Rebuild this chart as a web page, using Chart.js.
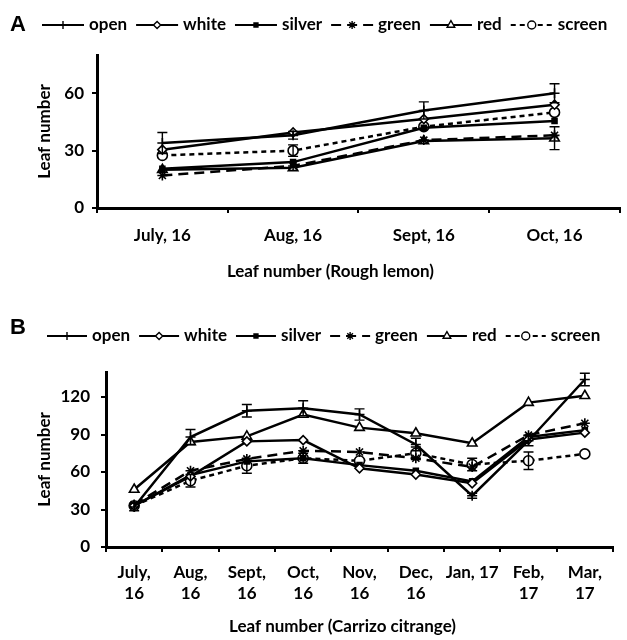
<!DOCTYPE html>
<html>
<head>
<meta charset="utf-8">
<script src="https://cdn.jsdelivr.net/npm/chart.js@4.4.0/dist/chart.umd.min.js"></script>
<style>
  body { margin: 0; background: #fff; }
  #wrapA { position: absolute; left: 0; top: 0; width: 627px; height: 305px; }
  #wrapB { position: absolute; left: 0; top: 310px; width: 627px; height: 330px; }
</style>
</head>
<body>
<div id="wrapA"><canvas id="chartA"></canvas></div>
<div id="wrapB"><canvas id="chartB"></canvas></div>
<script>
// series names (legend order)
const seriesNames = ['open', 'white', 'silver', 'green', 'red', 'screen'];

// A: Rough lemon
const monthsA = ['July, 16', 'Aug, 16', 'Sept, 16', 'Oct, 16'];
const openA   = [34, 38, 51, 60];
const whiteA  = [30.5, 39.5, 46.5, 54];
const silverA = [20.5, 24, 42, 45.5];
const greenA  = [17, 22, 35.5, 38];
const redA    = [20, 21, 35, 36.5];
const screenA = [27.5, 30, 42.5, 50];
const openErrA   = [5.5, 2, 4.5, 5];
const redErrA    = [0, 0, 0, 6];
const screenErrA = [0, 3, 0, 0];
const yTicksA = [0, 30, 60];

// B: Carrizo citrange
const monthsB = [['July,', '16'], ['Aug,', '16'], ['Sept,', '16'], ['Oct,', '16'], ['Nov,', '16'],
                 ['Dec,', '16'], 'Jan, 17', ['Feb,', '17'], ['Mar,', '17']];
const openB   = [32, 88, 109, 111, 106, 82, 41, 85, 134];
const whiteB  = [33, 56.5, 84.5, 85.5, 63, 58, 51, 86, 91.5];
const silverB = [33, 57.5, 68.5, 71, 65.5, 61, 52.5, 88, 93.5];
const greenB  = [34, 61, 70.5, 77, 76, 71, 64, 89.5, 99];
const redB    = [46, 84, 88.5, 106, 95.5, 91, 83, 115.5, 121];
const screenB = [33, 53, 65, 71, 69, 75, 66, 69, 74.5];
const openErrB   = [3, 6, 5, 6, 4.5, 5, 2, 4, 5];
const screenErrB = [0, 5, 6, 4, 0, 5, 5, 7, 0];
const yTicksB = [0, 30, 60, 90, 120];

const FONT = 'Lato, "Open Sans", sans-serif';
const FSIZE = 17;

const looks = {
  open:   { pointStyle: 'cross', pointRadius: 5, dash: [], fill: '#000' },
  white:  { pointStyle: 'rectRot', pointRadius: 4.5, dash: [], fill: '#fff' },
  silver: { pointStyle: 'rect', pointRadius: 3.5, dash: [], fill: '#000' },
  green:  { pointStyle: 'star', pointRadius: 5, dash: [10, 6], fill: '#000' },
  red:    { pointStyle: 'triangle', pointRadius: 5.5, dash: [], fill: '#fff' },
  screen: { pointStyle: 'circle', pointRadius: 5, dash: [5, 4], fill: '#fff' }
};

function makeSets(values, errors) {
  return seriesNames.map((name, i) => ({
    label: name,
    data: values[i],
    errors: errors[i],
    borderColor: '#000',
    borderWidth: 2.5,
    borderDash: looks[name].dash,
    pointStyle: looks[name].pointStyle,
    pointRadius: looks[name].pointRadius,
    pointBackgroundColor: looks[name].fill,
    pointBorderColor: '#000',
    pointBorderWidth: 1.6,
    tension: 0,
    fill: false
  }));
}

const errorBars = {
  id: 'errorBars',
  afterDatasetsDraw(chart) {
    const ctx = chart.ctx;
    const y = chart.scales.y;
    chart.data.datasets.forEach((ds, i) => {
      if (!ds.errors) return;
      const meta = chart.getDatasetMeta(i);
      meta.data.forEach((pt, j) => {
        const e = ds.errors[j];
        if (!e) return;
        const top = y.getPixelForValue(ds.data[j] + e);
        const bot = y.getPixelForValue(ds.data[j] - e);
        ctx.save();
        ctx.strokeStyle = '#000';
        ctx.lineWidth = 1.4;
        ctx.beginPath();
        ctx.moveTo(pt.x, top); ctx.lineTo(pt.x, bot);
        ctx.moveTo(pt.x - 5, top); ctx.lineTo(pt.x + 5, top);
        ctx.moveTo(pt.x - 5, bot); ctx.lineTo(pt.x + 5, bot);
        ctx.stroke();
        ctx.restore();
      });
    });
  }
};

const lineLegend = {
  id: 'lineLegend',
  afterDraw(chart, args, opts) {
    const ctx = chart.ctx;
    ctx.save();
    // panel letter
    ctx.fillStyle = '#000';
    ctx.font = 'bold 22px "Liberation Sans", Arial, sans-serif';
    ctx.textBaseline = 'middle';
    ctx.textAlign = 'left';
    ctx.fillText(opts.letter, 10, opts.letterY);
    // legend items
    ctx.font = 'bold ' + FSIZE + 'px ' + FONT;
    let x = opts.x;
    const yy = opts.y;
    chart.data.datasets.forEach(ds => {
      ctx.save();
      ctx.strokeStyle = '#000';
      ctx.lineWidth = 2.2;
      ctx.setLineDash(ds.borderDash || []);
      ctx.beginPath();
      ctx.moveTo(x, yy); ctx.lineTo(x + opts.lineLen, yy);
      ctx.stroke();
      ctx.setLineDash([]);
      ctx.fillStyle = ds.pointBackgroundColor;
      ctx.lineWidth = 1.4;
      Chart.helpers.drawPoint(ctx, {
        pointStyle: ds.pointStyle, radius: ds.pointRadius * 0.8, rotation: 0, borderWidth: 1.4
      }, x + opts.lineLen / 2, yy);
      ctx.restore();
      x += opts.lineLen + 5;
      ctx.fillStyle = '#000';
      ctx.fillText(ds.label, x, yy);
      x += ctx.measureText(ds.label).width + 9;
    });
    // x axis title
    const ca = chart.chartArea;
    ctx.textAlign = 'center';
    ctx.fillText(opts.xTitle, (ca.left + ca.right) / 2 + opts.xTitleDx, opts.xTitleY);
    ctx.restore();
  }
};

function makeChart(id, labels, sets, cfg) {
  const tickFont = { family: FONT, size: FSIZE, weight: 'bold', lineHeight: 1.25 };
  return new Chart(document.getElementById(id), {
    type: 'line',
    data: { labels: labels, datasets: sets },
    plugins: [errorBars, lineLegend],
    options: {
      responsive: true,
      maintainAspectRatio: false,
      animation: false,
      layout: { padding: { top: cfg.top, right: cfg.right, left: 0, bottom: 0 } },
      plugins: {
        legend: { display: false },
        tooltip: { enabled: false },
        lineLegend: cfg.legend
      },
      scales: {
        x: {
          offset: true,
          grid: { display: true, drawOnChartArea: false, drawTicks: true, tickLength: 5,
                  color: '#000', lineWidth: 2, offset: true },
          border: { display: true, color: '#000', width: 3 },
          ticks: { color: '#000', font: tickFont, padding: cfg.xPad, maxRotation: 0, autoSkip: false },
          afterFit: s => { s.height = cfg.xH; }
        },
        y: {
          min: 0,
          max: cfg.yMax,
          afterBuildTicks: s => { s.ticks = cfg.yTicks.map(v => ({ value: v })); },
          grid: { display: true, drawOnChartArea: false, drawTicks: true, tickLength: 5,
                  color: '#000', lineWidth: 2 },
          border: { display: true, color: '#000', width: 3 },
          ticks: { color: '#000', font: tickFont, padding: cfg.yPad },
          title: { display: true, text: 'Leaf number', color: '#000',
                   font: { family: FONT, size: FSIZE, weight: 'bold' }, padding: { top: cfg.yTitlePad, bottom: 0 } },
          afterFit: s => { s.width = cfg.yW; }
        }
      }
    }
  });
}

makeChart('chartA', monthsA,
  makeSets([openA, whiteA, silverA, greenA, redA, screenA],
           [openErrA, null, null, null, redErrA, screenErrA]),
  { top: 55, right: 0, xH: 97, yW: 97, yMax: 80, yTicks: yTicksA, xPad: 12, yPad: 8, yTitlePad: 34,
    legend: { letter: 'A', letterY: 25, x: 42, y: 25, lineLen: 42,
              xTitle: 'Leaf number (Rough lemon)', xTitleDx: -28, xTitleY: 272 } });

makeChart('chartB', monthsB,
  makeSets([openB, whiteB, silverB, greenB, redB, screenB],
           [openErrB, null, null, null, null, screenErrB]),
  { top: 62, right: 14, xH: 93, yW: 106, yMax: 140, yTicks: yTicksB, xPad: 10, yPad: 11, yTitlePad: 34,
    legend: { letter: 'B', letterY: 18, x: 47, y: 26, lineLen: 40,
              xTitle: 'Leaf number (Carrizo citrange)', xTitleDx: -17, xTitleY: 317 } });
</script>
</body>
</html>
